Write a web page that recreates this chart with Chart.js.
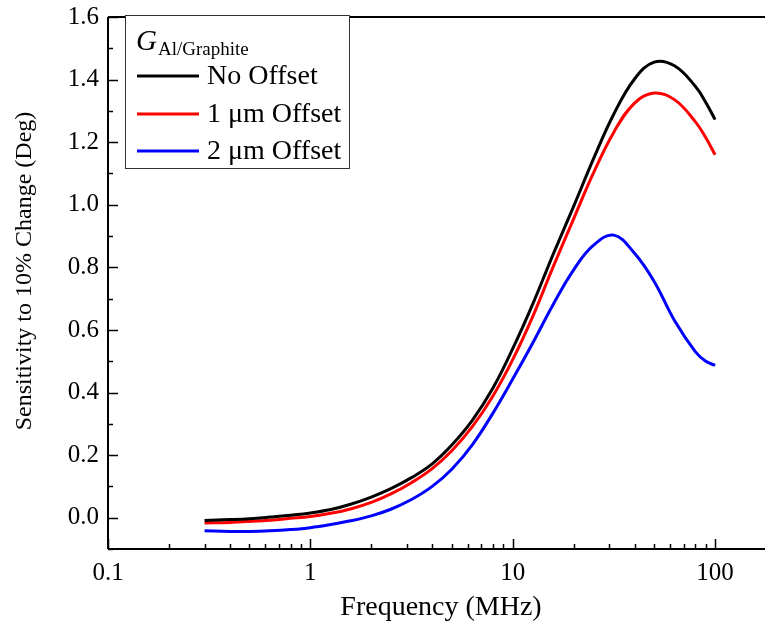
<!DOCTYPE html>
<html>
<head>
<meta charset="utf-8">
<script src="https://cdn.jsdelivr.net/npm/chart.js@4/dist/chart.umd.min.js"></script>
<style>
  html, body { margin: 0; padding: 0; background: #fff; overflow: hidden; }
  canvas { display: block; }
</style>
</head>
<body>
<canvas id="chart" width="790" height="631"></canvas>
<script>
// frequency in MHz (log axis), roughly 10 points per decade
const freqs = [0.3, 0.4, 0.5, 0.63, 0.8, 1, 1.26, 1.58, 2, 2.5, 3.16, 4, 5, 6.3, 8,
  10, 12.6, 15.8, 20, 25, 31.6, 40, 50, 63, 80, 90, 100];

const noOffset = [-0.009, -0.006, -0.003, 0.002, 0.008, 0.015, 0.026, 0.043, 0.066, 0.093, 0.128,
  0.172, 0.232, 0.31, 0.415, 0.54, 0.685, 0.84, 0.995, 1.145, 1.29, 1.402, 1.456, 1.444, 1.378, 1.327, 1.272];
const oneUm = [-0.017, -0.015, -0.012, -0.008, -0.002, 0.004, 0.014, 0.028, 0.049, 0.076, 0.112,
  0.157, 0.214, 0.29, 0.39, 0.505, 0.645, 0.80, 0.955, 1.10, 1.232, 1.325, 1.357, 1.336, 1.265, 1.214, 1.16];
const twoUm = [-0.042, -0.044, -0.044, -0.042, -0.038, -0.032, -0.022, -0.01, 0.006, 0.027, 0.058,
  0.10, 0.155, 0.232, 0.335, 0.443, 0.56, 0.68, 0.792, 0.87, 0.903, 0.845, 0.755, 0.63, 0.53, 0.50, 0.487];

const seriesLabels = ["No Offset", "1 \u03bcm Offset", "2 \u03bcm Offset"];
const seriesColors = ["#000000", "#ff0000", "#0000ff"];

const xTicks = [0.1, 1, 10, 100];
const yTicks = [0, 0.2, 0.4, 0.6, 0.8, 1.0, 1.2, 1.4, 1.6];

const FONT = "'Liberation Serif', 'Times New Roman', serif";

function pts(ys) {
  return freqs.map((f, i) => ({ x: f, y: ys[i] }));
}

// axes frame, inward ticks, titles, legend box
const decorations = {
  id: "decorations",
  afterDraw(chart) {
    const ctx = chart.ctx;
    const a = chart.chartArea;
    const xs = chart.scales.x;
    const ys = chart.scales.y;
    ctx.save();
    ctx.strokeStyle = "#000";
    ctx.lineWidth = 2;
    ctx.beginPath();
    ctx.moveTo(a.left, a.top); ctx.lineTo(a.right, a.top);
    ctx.moveTo(a.left, a.top); ctx.lineTo(a.left, a.bottom);
    ctx.moveTo(a.left, a.bottom); ctx.lineTo(a.right, a.bottom);
    ctx.moveTo(a.right, a.top); ctx.lineTo(a.right, a.bottom);
    ctx.stroke();

    // x ticks
    ctx.lineWidth = 1.5;
    ctx.beginPath();
    for (let d = 0.1; d <= 100; d *= 10) {
      for (let m = 1; m <= 9; m++) {
        const v = d * m;
        if (v > xs.max) continue;
        const px = Math.round(xs.getPixelForValue(v)) + 0.5;
        const len = m === 1 ? 10 : 5;
        ctx.moveTo(px, a.bottom); ctx.lineTo(px, a.bottom - len);
      }
    }
    // y ticks
    for (let k = -1; k <= 16; k++) {
      const v = k / 10;
      const py = Math.round(ys.getPixelForValue(v)) + 0.5;
      const len = k % 2 === 0 ? 10 : 5;
      ctx.moveTo(a.left, py); ctx.lineTo(a.left + len, py);
    }
    ctx.stroke();

    // axis titles
    ctx.fillStyle = "#000";
    ctx.textAlign = "center";
    ctx.textBaseline = "middle";
    ctx.font = "28px " + FONT;
    ctx.fillText("Frequency (MHz)", 441, 608);
    ctx.save();
    ctx.translate(25, 271);
    ctx.rotate(-Math.PI / 2);
    ctx.font = "24px " + FONT;
    ctx.fillText("Sensitivity to 10% Change (Deg)", 0, 0);
    ctx.restore();

    // legend
    const bx = 125, by = 15, bw = 224, bh = 153;
    ctx.fillStyle = "#fff";
    ctx.fillRect(bx, by, bw, bh);
    ctx.strokeStyle = "#333";
    ctx.lineWidth = 1;
    ctx.strokeRect(bx + 0.5, by + 0.5, bw, bh);
    ctx.fillStyle = "#000";
    ctx.textAlign = "left";
    ctx.textBaseline = "alphabetic";
    ctx.font = "italic 29px " + FONT;
    ctx.fillText("G", 136, 50);
    ctx.font = "19px " + FONT;
    ctx.fillText("Al/Graphite", 158, 55);
    const rows = [76, 114, 151];
    chart.data.datasets.forEach((ds, i) => {
      ctx.strokeStyle = ds.borderColor;
      ctx.lineWidth = 3;
      ctx.beginPath();
      ctx.moveTo(137, rows[i]); ctx.lineTo(199, rows[i]);
      ctx.stroke();
      ctx.font = "28px " + FONT;
      ctx.textBaseline = "middle";
      ctx.fillText(ds.label, 207, rows[i] + 1);
    });
    ctx.restore();
  }
};

new Chart(document.getElementById("chart"), {
  type: "line",
  data: {
    datasets: [noOffset, oneUm, twoUm].map((ys, i) => ({
      label: seriesLabels[i],
      data: pts(ys),
      borderColor: seriesColors[i],
      borderWidth: 3,
      pointRadius: 0,
      fill: false,
      tension: 0.4
    }))
  },
  options: {
    responsive: false,
    animation: false,
    layout: { padding: { top: 17, right: 14, left: 0, bottom: 0 } },
    plugins: { legend: { display: false }, tooltip: { enabled: false } },
    scales: {
      x: {
        type: "logarithmic",
        min: 0.1,
        max: 200,
        grid: { display: false, drawTicks: false },
        border: { display: false },
        afterBuildTicks: (s) => { s.ticks = xTicks.map(v => ({ value: v })); },
        afterFit: (s) => { s.height = 82; s.paddingLeft = 0; s.paddingRight = 0; },
        ticks: {
          color: "#000",
          font: { family: FONT, size: 25 },
          padding: 9,
          maxRotation: 0,
          autoSkip: false,
          callback: (v) => String(v)
        }
      },
      y: {
        min: -0.1,
        max: 1.6,
        grid: { display: false, drawTicks: false },
        border: { display: false },
        afterBuildTicks: (s) => { s.ticks = yTicks.map(v => ({ value: v })); },
        afterFit: (s) => { s.width = 108; s.paddingTop = 0; s.paddingBottom = 0; },
        ticks: {
          color: "#000",
          font: { family: FONT, size: 25 },
          padding: 9,
          callback: (v) => Number(v).toFixed(1)
        }
      }
    }
  },
  plugins: [decorations]
});
</script>
</body>
</html>
